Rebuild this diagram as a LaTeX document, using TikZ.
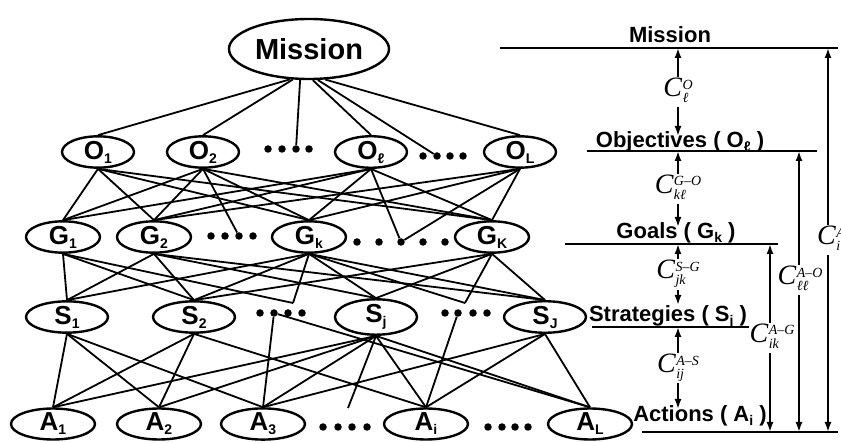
\documentclass[tikz,border=0pt]{standalone}
\usepackage{fontspec}
\setmainfont{Liberation Sans}
\newfontfamily\lblfont{Liberation Serif}
\usetikzlibrary{arrows.meta,shapes.geometric}

% letter with a low, small index, as used inside the ellipses
\newcommand\nd[2]{#1\raisebox{-4pt}{\fontsize{14}{14}\selectfont #2}}
% italic C with a stacked upper and lower index
\newcommand\clab[2]{{\lblfont\itshape C\kern0.5pt\fontsize{14}{14}\selectfont
  \renewcommand\arraystretch{0.9}%
  \begin{tabular}[c]{@{}l@{}}#1\\#2\end{tabular}}}

\tikzset{
  ell/.style={draw, ellipse, line width=2.4pt, inner sep=0pt,
    font=\fontsize{26}{26}\selectfont\bfseries},
  big/.style={minimum width=160pt, minimum height=60pt,
    font=\fontsize{29}{29}\selectfont\bfseries},
  onode/.style={minimum width=72pt, minimum height=23pt},
  gnode/.style={minimum width=74pt, minimum height=25pt},
  snode/.style={minimum width=82pt, minimum height=29pt},
  anode/.style={minimum width=84pt, minimum height=31pt},
  dotmark/.style={circle, fill, inner sep=0pt, minimum size=7.5pt},
  link/.style={line width=1.8pt},
  lvl/.style={anchor=base, inner sep=0pt,
    font=\fontsize{22}{22}\selectfont\bfseries},
  rule/.style={line width=1.8pt},
  dim/.style={line width=1.8pt,
    {Latex[length=10pt,width=7pt]}-{Latex[length=10pt,width=7pt]}},
  clabel/.style={fill=white, inner sep=1pt, font=\fontsize{28}{28}\selectfont}
}

\begin{document}
\begin{tikzpicture}[x=1pt,y=-1pt]
\path[use as bounding box, fill=white] (0,0) rectangle (841,443);

% ---------------- hierarchy ----------------
\node[ell, big] (M) at (309,49) {Mission};

\node[ell, onode] (O1) at (98,152)  {\nd{O}{1}};
\node[ell, onode] (O2) at (203,152) {\nd{O}{2}};
\node[ell, onode] (Ol) at (371,152) {\nd{O}{ℓ}};
\node[ell, onode] (OL) at (520,152) {\nd{O}{L}};

\node[ell, gnode] (G1) at (63,237)  {\nd{G}{1}};
\node[ell, gnode] (G2) at (154,237) {\nd{G}{2}};
\node[ell, gnode] (Gk) at (309,237) {\nd{G}{k}};
\node[ell, gnode] (GK) at (492,237) {\nd{G}{K}};

\node[ell, snode] (S1) at (67,317)  {\nd{S}{1}};
\node[ell, snode] (S2) at (194,317) {\nd{S}{2}};
\node[ell, snode] (Sj) at (376,317) {\nd{S}{j}};
\node[ell, snode] (SJ) at (545,317) {\nd{S}{J}};

\node[ell, anode] (A1) at (53,424)  {\nd{A}{1}};
\node[ell, anode] (A2) at (159,424) {\nd{A}{2}};
\node[ell, anode] (A3) at (263,424) {\nd{A}{3}};
\node[ell, anode] (Ai) at (426,424) {\nd{A}{i}};
\node[ell, anode] (AL) at (590,424) {\nd{A}{L}};

% ellipsis dots
\foreach \x [count=\i] in {268,282,296,309} \node[dotmark] (od1\i) at (\x,149) {};
\foreach \x [count=\i] in {423,437,450,463} \node[dotmark] (od2\i) at (\x,156) {};
\foreach \x [count=\i] in {211,225,239,253} \node[dotmark] (gd1\i) at (\x,236) {};
\foreach \x [count=\i] in {357,379,401,423,445} \node[dotmark] (gd2\i) at (\x,242) {};
\foreach \x [count=\i] in {260,274,288,302} \node[dotmark] (sd1\i) at (\x,313) {};
\foreach \x [count=\i] in {445,458,473,487} \node[dotmark] (sd2\i) at (\x,313) {};
\foreach \x [count=\i] in {323,338,352,367} \node[dotmark] (ad1\i) at (\x,427) {};
\foreach \x [count=\i] in {488,502,515,528} \node[dotmark] (ad2\i) at (\x,427) {};

% free ends of links that stop short of the dots
\coordinate (sv1) at (293,303);
\coordinate (sv2) at (465,303);
\coordinate (av)  at (348,408);

% mission to objectives
\draw[link] (M.-122) -- (O1.north);
\draw[link] (M.-118) -- (O2.north);
\draw[link] (M.-106) -- (od13);
\draw[link] (M.-83)  -- (Ol.north);
\draw[link] (M.-74)  -- (od22);
\draw[link] (M.-62)  -- (OL.north);

% objectives to goals
\foreach \a/\b in {O1/G1,O1/G2,O1/Gk,O1/GK,
                   O2/G1,O2/G2,O2/Gk,O2/GK,
                   Ol/G1,Ol/G2,Ol/Gk,Ol/GK,
                   OL/G2,OL/Gk,OL/GK}
  \draw[link] (\a.south) -- (\b.north);
\draw[link] (O2.south) -- (gd13);
\draw[link] (Ol.south) -- (gd23);
\draw[link] (OL.south) -- (gd23);

% goals to strategies
\foreach \a/\b in {G1/S1,G1/S2,
                   G2/S1,G2/S2,G2/Sj,G2/SJ,
                   Gk/S1,Gk/S2,Gk/Sj,Gk/SJ,
                   GK/S2,GK/Sj,GK/SJ}
  \draw[link] (\a.south) -- (\b.north);
\draw[link] (G1.south) -- (sv1);
\draw[link] (Gk.south) -- (sv1);
\draw[link] (Gk.south) -- (sv2);
\draw[link] (GK.south) -- (sv2);

% strategies to actions
\foreach \a/\b in {S1/A1,S1/A2,S1/A3,
                   S2/A1,S2/A2,S2/Ai,
                   Sj/A1,Sj/A2,Sj/A3,Sj/Ai,Sj/AL,
                   SJ/A3,SJ/Ai,SJ/AL}
  \draw[link] (\a.south) -- (\b.north);
\draw[link] (sd12) -- (A3.north);
\draw[link] (sd12) -- (AL.north);
\draw[link] (Sj.south) -- (av);
\draw[link] (sd22) -- (Ai.north);

% ---------------- level scale ----------------
\coordinate (mL) at (500,48);  \coordinate (mR) at (838,48);
\coordinate (oL) at (587,151); \coordinate (oR) at (817,151);
\coordinate (gL) at (565,244); \coordinate (gR) at (778,244);
\coordinate (sL) at (592,327); \coordinate (sR) at (752,327);
\coordinate (aL) at (642,432); \coordinate (aR) at (838,432);
\foreach \l/\r in {mL/mR,oL/oR,gL/gR,sL/sR,aL/aR}
  \draw[rule] (\l) -- (\r);

\node[lvl] (tM) at (670,43)  {Mission};
\node[lvl] (tO) at (680,148) {Objectives ( \nd{O}{ℓ} )};
\node[lvl] (tG) at (676,239) {Goals ( \nd{G}{k} )};
\node[lvl] (tS) at (668,322) {Strategies ( \nd{S}{j} )};
\node[lvl] (tA) at (700,422) {Actions ( \nd{A}{i} )};

% spans between neighbouring levels
\coordinate (c1a) at (678,48);  \coordinate (c1b) at (678,136);
\coordinate (c2a) at (678,151); \coordinate (c2b) at (678,227);
\coordinate (c3a) at (678,244); \coordinate (c3b) at (678,305);
\coordinate (c4a) at (678,327); \coordinate (c4b) at (678,409);
\draw[dim] (c1a) -- node[clabel] {\clab{O}{ℓ}} (c1b);
\draw[dim] (c2a) -- node[clabel] {\clab{G–O}{kℓ}} (c2b);
\draw[dim] (c3a) -- node[clabel] {\clab{S–G}{jk}} (c3b);
\draw[dim] (c4a) -- node[clabel] {\clab{A–S}{ij}} (c4b);

% spans down to the actions level
\coordinate (r1a) at (770,244); \coordinate (r1b) at (770,432);
\coordinate (r2a) at (799,151); \coordinate (r2b) at (799,432);
\coordinate (r3a) at (828,48);  \coordinate (r3b) at (828,432);
\draw[dim] (r1a) -- node[clabel, pos=0.5, xshift=2pt] {\clab{A–G}{ik}} (r1b);
\draw[dim] (r2a) -- node[clabel, pos=0.46, xshift=1pt] {\clab{A–O}{ℓℓ}} (r2b);
\draw[dim] (r3a) -- node[clabel, pos=0.5, xshift=3pt] {\clab{A}{i}} (r3b);
\end{tikzpicture}
\end{document}
